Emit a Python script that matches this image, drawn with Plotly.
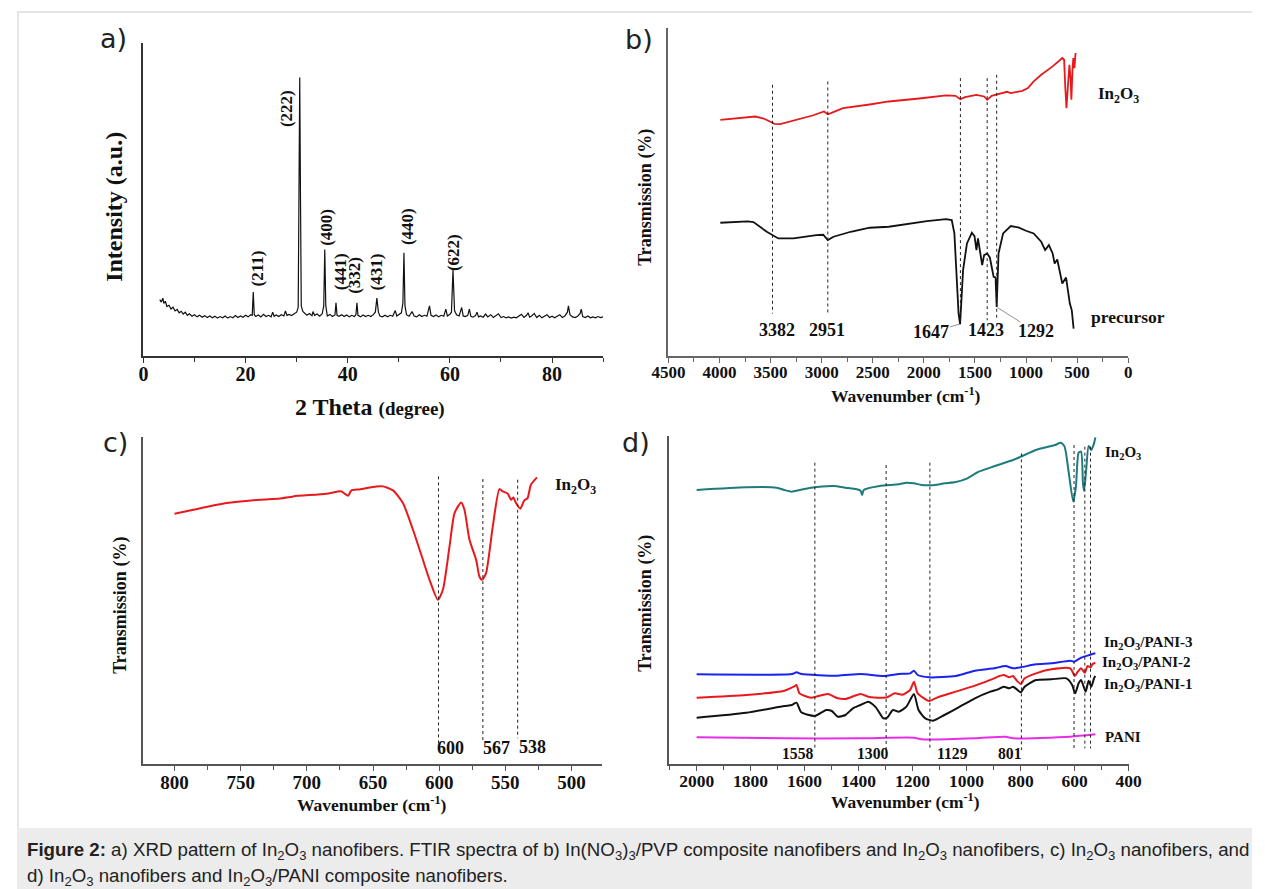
import plotly.graph_objects as go

W, H = 1265, 889

# ---------------- data ----------------
# a) XRD pattern
xrd_2theta = [3.2, 3.5, 3.8, 4.0, 4.3, 4.6, 5.0, 5.4, 5.8, 6.2, 6.6, 7.0, 7.4, 7.8, 8.2, 8.6, 9.0, 9.5, 10, 10.5,
              11, 11.5, 12, 12.5, 13, 13.5, 14, 14.5, 15, 15.5, 16, 16.5, 17, 17.5, 18, 18.5, 19, 19.5, 20, 20.5,
              21, 21.3, 21.5, 21.7, 22, 22.5, 23, 23.5, 24, 24.5, 25, 25.3, 25.6, 26, 26.5, 27, 27.5, 27.8, 28.1,
              28.5, 29, 29.5, 30.0, 30.3, 30.5, 30.6, 30.75, 30.9, 31.2, 31.6, 32, 32.5, 33, 33.2, 33.5, 34, 34.5,
              35, 35.3, 35.5, 35.7, 36, 36.5, 37, 37.5, 37.7, 37.9, 38.3, 38.8, 39.3, 39.8, 40.3, 40.8, 41.3, 41.6,
              41.8, 42.0, 42.5, 43, 43.5, 44, 44.5, 45, 45.4, 45.7, 46.0, 46.3, 46.8, 47.3, 47.8, 48.3, 48.8, 49.3,
              49.6, 50, 50.5, 50.8, 51.0, 51.2, 51.5, 52, 52.6, 53.0, 53.5, 54, 54.5, 55, 55.5, 56.0, 56.3, 56.8,
              57.3, 57.8, 58.3, 58.8, 59.2, 59.5, 60, 60.3, 60.6, 60.9, 61.3, 61.8, 62.3, 62.6, 63.0, 63.5, 63.8,
              64.1, 64.5, 65, 65.3, 65.6, 66, 66.5, 67, 67.4, 68, 68.5, 69, 69.5, 70, 70.5, 71, 71.5, 72, 72.5, 73,
              73.5, 74, 74.5, 75, 75.3, 75.6, 76, 76.5, 77, 77.5, 78, 78.5, 79, 79.5, 80, 80.5, 81, 81.5, 82, 82.5,
              83.0, 83.2, 83.5, 84, 84.5, 85, 85.5, 85.7, 86.0, 86.5, 87, 87.5, 88, 88.5, 89, 89.5, 90]
xrd_intensity = [18, 17.2, 18.5, 16.8, 17.5, 15.8, 16.2, 15.0, 15.6, 14.4, 14.9, 13.8, 14.3, 13.4, 14.0, 13.0, 13.5,
                 12.7, 13.2, 12.5, 13.0, 12.4, 12.9, 12.3, 12.8, 12.2, 12.7, 12.1, 12.6, 12.2, 12.8, 12.1, 12.6, 12.2,
                 12.9, 12.3, 12.8, 12.4, 13.0, 12.5, 13.2, 13.0, 20.4, 13.2, 12.6, 13.1, 12.5, 13.3, 12.6, 13.0, 12.5,
                 14.0, 12.7, 13.1, 12.6, 13.2, 12.8, 14.4, 13.0, 13.3, 12.9, 13.5, 14.0, 15.5, 50, 89, 50, 16, 14.2,
                 13.5, 13.0, 13.6, 12.9, 14.2, 13.0, 13.4, 12.7, 13.5, 16, 34, 16, 12.8, 13.3, 12.6, 13.1, 17, 13.0,
                 12.7, 13.2, 12.6, 13.1, 12.5, 13.0, 12.6, 13.2, 17, 13.0, 12.5, 13.1, 12.6, 13.0, 12.6, 13.2, 14,
                 18.5, 14.0, 12.8, 12.5, 13.0, 12.5, 13.0, 12.7, 14.5, 12.8, 13.3, 13.8, 17, 33, 16, 13.2, 12.7, 14.2,
                 12.8, 12.5, 13.2, 12.6, 13.0, 12.7, 16, 13.0, 12.6, 13.1, 12.5, 13.0, 12.7, 15, 12.8, 13.3, 14.0,
                 27.5, 14.5, 13.2, 12.8, 15.5, 12.8, 12.6, 13.0, 15, 12.7, 12.4, 12.9, 14.0, 12.5, 12.8, 12.4, 13.4,
                 12.5, 13.2, 12.3, 12.9, 13.5, 12.3, 12.6, 12.2, 12.5, 12.1, 12.4, 12.2, 12.8, 13.3, 12.3, 13.0, 13.8,
                 12.4, 12.8, 13.6, 12.3, 13.0, 12.2, 12.6, 13.2, 12.3, 12.7, 12.2, 12.6, 13.2, 12.3, 12.8, 14, 16,
                 13.2, 12.5, 12.3, 12.7, 13.6, 15, 12.6, 12.3, 12.8, 12.2, 12.5, 12.2, 12.6, 12.3, 12.5]
xrd_hkl = ["(211)", "(222)", "(400)", "(441)", "(332)", "(431)", "(440)", "(622)"]
xrd_hkl_x = [22.3, 27.9, 35.7, 38.5, 41.4, 45.6, 51.6, 60.6]
xrd_hkl_y = [28.1, 79.2, 41.2, 26.8, 25.9, 26.8, 41.2, 33.2]

# b) FTIR precursor / In2O3
b_in2o3_wn = [3992, 3649, 3567, 3462, 3406, 3276, 3089, 2977, 2940, 2910, 2847, 2791, 2530, 2343, 2045, 1783, 1690,
              1642, 1597, 1485, 1410, 1380, 1336, 1224, 1186, 1149, 1112, 1037, 981, 925, 851, 739, 645, 627, 616,
              604, 590, 575, 563, 556, 545, 537, 526, 515]
b_in2o3_t = [70.7, 71.7, 71.1, 69.5, 69.4, 70.5, 72.0, 73.2, 72.4, 72.7, 73.5, 74.2, 75.3, 76.2, 77.1, 78.0, 77.9,
             76.9, 77.5, 78.2, 77.7, 76.7, 77.9, 78.7, 79.1, 78.7, 79.0, 79.4, 80.2, 82.2, 84.2, 86.7, 89.2, 88.7,
             80.7, 74.2, 80.7, 87.2, 82.7, 76.7, 85.7, 89.2, 86.2, 90.7]
b_prec_wn = [3992, 3724, 3668, 3537, 3425, 3276, 3052, 2985, 2940, 2884, 2716, 2530, 2343, 1970, 1783, 1727, 1701,
             1679, 1660, 1645, 1634, 1616, 1578, 1530, 1504, 1485, 1470, 1448, 1429, 1410, 1380, 1354, 1317, 1298,
             1287, 1269, 1224, 1149, 1075, 1000, 925, 851, 813, 776, 739, 720, 694, 645, 608, 571, 552, 534]
b_prec_t = [39.9, 40.3, 40.1, 37.2, 35.2, 35.2, 36.2, 36.3, 34.7, 35.7, 37.2, 38.4, 38.7, 40.4, 41.0, 40.7, 36.7,
            25.7, 12.7, 9.5, 14.7, 25.7, 33.7, 36.9, 35.9, 31.7, 35.2, 30.7, 27.2, 30.2, 30.7, 29.5, 23.7, 23.5,
            14.7, 30.7, 36.7, 38.9, 38.5, 37.5, 36.7, 34.2, 31.7, 33.2, 30.7, 27.7, 28.9, 21.7, 23.5, 15.7, 13.7, 8.2]
b_marks_wn = [3481, 2940, 1642, 1380, 1287]
b_marks_top = [81.2, 82.2, 83.2, 83.2, 84.2]
b_marks_bot = [12.7, 12.2, 9.7, 10.7, 10.7]
b_labels = ["3382", "2951", "1647", "1423", "1292"]
b_labels_x = [3433, 2947, 1933, 1392, 907]
b_labels_y = [7.9, 7.9, 7.2, 7.7, 7.5]

# c) FTIR In2O3 (fingerprint region)
c_wn = [800, 785.7, 760.6, 735.4, 720.4, 710.3, 685.2, 673.9, 671.4, 668.8, 666.3, 660.1, 647.5, 642.5, 634.9, 627.4,
        619.8, 612.3, 607.3, 601, 597.2, 592.2, 588.4, 583.4, 580.9, 577.1, 572.1, 569.6, 567.6, 564.6, 559.5,
        554.5, 552, 548.2, 545.7, 544, 541.9, 538.7, 535.7, 533.2, 530.7, 526.1]
c_t = [75, 76.2, 78.2, 79.2, 79.6, 80.2, 81, 81.7, 81, 80.4, 82, 82.3, 83.2, 83.2, 82, 78.2, 70.2, 61.2, 55.2, 49.2,
       52.2, 65.2, 75.2, 78.4, 76.2, 67.2, 61.2, 56.2, 55.2, 57.2, 71.2, 82.4, 81.7, 81, 79.2, 79.9, 78.2, 76.5, 79,
       79.7, 83.7, 85.9]
c_marks_wn = [600.5, 567, 540.7]
c_marks_top = [86.2, 85.4, 85.2]
c_marks_bot = [6.2, 6.7, 7.7]
c_labels = ["600", "567", "538"]
c_labels_x = [591.7, 556.5, 529.4]
c_labels_y = [4.7, 4.7, 5.0]

# d) FTIR In2O3 / In2O3-PANI composites / PANI
d_in2o3_wn = [2000, 1816, 1703, 1675, 1647, 1619, 1576, 1492, 1449, 1407, 1393, 1387, 1381, 1322, 1251, 1223, 1195,
              1167, 1138, 1110, 1082, 1040, 997, 955, 912, 884, 828, 799, 743, 672, 651, 637, 623, 605, 595, 585, 576,
              569, 565, 557, 548, 538, 528, 523]
d_in2o3_t = [82.2, 83, 82.9, 82.2, 81.7, 82.2, 82.9, 83.4, 82.9, 82.4, 82, 80.7, 82.2, 83.4, 83.9, 84.4, 84.2, 83.7,
             83.6, 83.8, 84.2, 84.6, 85.7, 87.7, 88.9, 89.7, 91.2, 92.2, 94.2, 95.7, 96.4, 95.2, 88.2, 78.7, 83.2,
             93.4, 93.7, 84.2, 82, 88.2, 95.4, 94.2, 96.2, 98]
d_p3_wn = [2000, 1647, 1630, 1612, 1477, 1393, 1308, 1251, 1209, 1195, 1181, 1138, 1040, 969, 898, 856, 828, 799, 743,
           686, 616, 602, 573, 545, 523]
d_p3_t = [26.9, 27.0, 27.5, 27.0, 26.5, 27.0, 26.4, 27.0, 27.2, 28.0, 26.7, 26.0, 26.4, 28.0, 28.7, 29.4, 28.7, 29.0,
          29.9, 30.2, 31.0, 30.7, 32.0, 32.7, 33.2]
d_p2_wn = [2000, 1816, 1675, 1640, 1630, 1619, 1576, 1534, 1513, 1477, 1449, 1393, 1364, 1308, 1294, 1266, 1237, 1209,
           1195, 1181, 1138, 1110, 1040, 969, 898, 884, 863, 842, 828, 814, 799, 785, 743, 686, 616, 599, 588, 576,
           562, 552, 541, 534, 523]
d_p2_t = [19.9, 20.7, 22.0, 23.2, 23.7, 21.2, 19.9, 20.7, 21.0, 19.7, 19.5, 21.0, 20.2, 19.9, 20.0, 21.2, 20.8, 22.2,
          24.7, 21.2, 18.9, 19.9, 21.7, 23.5, 25.7, 26.2, 26.7, 26.0, 26.4, 25.0, 24.0, 25.7, 27.2, 28.4, 28.7, 26.4,
          27.7, 28.7, 27.4, 29.4, 29.0, 29.9, 30.4]
d_p1_wn = [2000, 1816, 1675, 1647, 1630, 1612, 1562, 1520, 1499, 1477, 1449, 1421, 1393, 1364, 1336, 1308, 1294, 1273,
           1251, 1223, 1195, 1178, 1153, 1124, 1082, 1025, 969, 912, 884, 863, 842, 828, 814, 799, 785, 743, 686, 630,
           609, 598, 585, 576, 559, 548, 538, 528, 523]
d_p1_t = [13.9, 15.4, 17.4, 17.7, 18.4, 15.5, 14.4, 16.2, 15.9, 14.2, 14.7, 16.7, 17.7, 18.7, 17.0, 13.7, 13.9, 16.2,
          15.7, 17.2, 21.0, 16.2, 13.7, 13.0, 14.7, 17.2, 19.7, 21.7, 22.4, 23.2, 22.7, 23.2, 22.4, 21.5, 23.2, 25.2,
          25.4, 25.7, 23.7, 21.2, 24.2, 25.2, 21.7, 25.0, 23.2, 25.7, 26.4]
d_pani_wn = [2000, 1675, 1393, 1195, 1167, 969, 856, 828, 616, 523]
d_pani_t = [8.0, 7.7, 7.7, 7.9, 7.4, 7.7, 8.2, 7.7, 8.2, 8.9]
d_marks_wn = [1562, 1298, 1136, 797, 602, 562, 541]
d_marks_top = [90.4, 89.7, 90.4, 93.2, 95.7, 95.2, 95.2]
d_marks_bot = [4.2, 4.2, 4.2, 4.2, 4.2, 4.7, 4.7]
d_labels = ["1558", "1300", "1129", "801"]
d_labels_x = [1623, 1346, 1054, 838]
d_labels_y = [3.2, 3.2, 3.2, 3.2]
d_series_names = ["In<sub>2</sub>O<sub>3</sub>", "In<sub>2</sub>O<sub>3</sub>/PANI-3",
                  "In<sub>2</sub>O<sub>3</sub>/PANI-2", "In<sub>2</sub>O<sub>3</sub>/PANI-1", "PANI"]
d_names_x = [496, 500, 506, 500, 493]
d_names_y = [93.2, 36.2, 30.2, 23.7, 8.2]

# ---------------- helpers ----------------
SERIF = "Liberation Serif"
SANS = "Liberation Sans"
SX, OX = 0.98, 12.8   # observed horizontal mapping of the page in the screenshot


def px(x):
    return (x - OX) / SX / W


def py(y):
    return 1 - y / H


fig = go.Figure()
RED = "#e8191c"
TEAL = "#1e7b7b"
BLUE = "#1a22f0"
MAG = "#e62ee6"


def line(x, y, color, width, xa, ya, dash=None, shape="linear"):
    fig.add_trace(go.Scatter(x=x, y=y, mode="lines", xaxis=xa, yaxis=ya, showlegend=False, hoverinfo="skip",
                             line=dict(color=color, width=width, dash=dash, shape=shape,
                                       smoothing=0.6 if shape == "spline" else None)))


# a
line(xrd_2theta, xrd_intensity, "#111111", 1.2, "x", "y")
# b
line(b_in2o3_wn, b_in2o3_t, RED, 1.8, "x2", "y2")
line(b_prec_wn, b_prec_t, "#111111", 1.8, "x2", "y2")
for w, t0, t1 in zip(b_marks_wn, b_marks_top, b_marks_bot):
    line([w, w], [t0, t1], "#222222", 1, "x2", "y2", dash="dot")
# c
line(c_wn, c_t, RED, 2, "x3", "y3", shape="spline")
for w, t0, t1 in zip(c_marks_wn, c_marks_top, c_marks_bot):
    line([w, w], [t0, t1], "#222222", 1, "x3", "y3", dash="dot")
# d
line(d_in2o3_wn, d_in2o3_t, TEAL, 2, "x4", "y4", shape="spline")
line(d_p3_wn, d_p3_t, BLUE, 2, "x4", "y4", shape="spline")
line(d_p2_wn, d_p2_t, RED, 2, "x4", "y4", shape="spline")
line(d_p1_wn, d_p1_t, "#111111", 2, "x4", "y4", shape="spline")
line(d_pani_wn, d_pani_t, MAG, 2, "x4", "y4", shape="spline")
for w, t0, t1 in zip(d_marks_wn, d_marks_top, d_marks_bot):
    line([w, w], [t0, t1], "#222222", 1, "x4", "y4", dash="dot")


def xax(dom, rng, dtick, mdtick, size, anchor, color, standoff):
    return dict(domain=[px(dom[0]), px(dom[1])], range=rng, dtick=dtick, tick0=0, anchor=anchor,
                showline=True, linecolor=color, linewidth=1.5, showgrid=False, zeroline=False,
                ticks="outside", ticklen=5, tickwidth=1.2, tickcolor=color, ticklabelstandoff=standoff,
                minor=dict(ticks="outside", dtick=mdtick, ticklen=4, tickwidth=1.2, tickcolor=color),
                tickfont=dict(family=SERIF, size=size, color="#111111", weight="bold"), fixedrange=True)


def yax(dom, rng, anchor, color):
    return dict(domain=[py(dom[1]), py(dom[0])], range=rng, anchor=anchor, showline=True, linecolor=color,
                linewidth=1.5, showgrid=False, zeroline=False, showticklabels=False, ticks="", fixedrange=True)


layout = dict(
    width=W, height=H, margin=dict(l=0, r=0, t=0, b=0), autosize=False,
    paper_bgcolor="white", plot_bgcolor="rgba(0,0,0,0)", showlegend=False,
    xaxis=xax((139.7, 601.2), [0, 90], 20, 10, 20, "y", "#333333", -6),
    yaxis=yax((43, 356), [0, 100], "x", "#333333"),
    xaxis2=xax((666.7, 1128.2), [4500, 0], 500, 250, 17, "y2", "#666666", -5),
    yaxis2=yax((28, 356), [0, 98.2], "x2", "#666666"),
    xaxis3=xax((139, 600), [824, 477], 50, 25, 19, "y3", "#555555", -5),
    yaxis3=yax((437, 764), [0, 98], "x3", "#555555"),
    xaxis4=xax((667.1, 1128.6), [2103, 400], 200, 100, 17.5, "y4", "#555555", -5),
    yaxis4=yax((436, 764), [0, 98.4], "x4", "#555555"),
)
fig.update_layout(**layout)

ann = []
shapes = []


def A(text, x, y, size, xref="paper", yref="paper", family=SERIF, angle=0, xanchor="center", yanchor="middle",
      color="#111111"):
    ann.append(dict(text=text, x=x, y=y, xref=xref, yref=yref, showarrow=False, textangle=angle,
                    xanchor=xanchor, yanchor=yanchor, font=dict(family=family, size=size, color=color)))


# panel letters
for t, x, y in [("a)", 110, 38), ("b)", 637, 40), ("c)", 112, 443), ("d)", 634, 443)]:
    A(t, px(x), py(y), 27, family="DejaVu Sans", color="#222222")

# axis titles
A("<b>Intensity (a.u.)</b>", px(110), py(207), 24, angle=-90)
A("<b>2 Theta </b><span style='font-size:19px'><b>(degree)</b></span>", px(367), py(407), 24)
A("<b>Transmission (%)</b>", px(643), py(197), 18, angle=-90)
A("<b>Wavenumber (cm<sup>-1</sup>)</b>", px(905), py(395), 17.5)
A("<b>Transmission (%)</b>", px(116), py(605), 18, angle=-90)
A("<b>Wavenumber (cm<sup>-1</sup>)</b>", px(369), py(804), 17.5)
A("<b>Transmission (%)</b>", px(643), py(603), 18, angle=-90)
A("<b>Wavenumber (cm<sup>-1</sup>)</b>", px(905), py(801), 17.4)

# a peak labels
for t, x, y in zip(xrd_hkl, xrd_hkl_x, xrd_hkl_y):
    A("<b>" + t + "</b>", x, y, 17, xref="x", yref="y", angle=-90)

# b labels
for t, x, y in zip(b_labels, b_labels_x, b_labels_y):
    A("<b>" + t + "</b>", x, y, 18, xref="x2", yref="y2")
A("<b>In<sub>2</sub>O<sub>3</sub></b>", 317, 78.2, 17, xref="x2", yref="y2", xanchor="left")
A("<b>precursor</b>", 384, 11.7, 17.5, xref="x2", yref="y2", xanchor="left")
shapes.append(dict(type="line", xref="x2", yref="y2", x0=1746, y0=8.7, x1=1653, y1=9.5,
                   line=dict(color="#777777", width=0.8)))
shapes.append(dict(type="line", xref="x2", yref="y2", x0=1056, y0=10.2, x1=1280, y1=14.5,
                   line=dict(color="#777777", width=0.8)))

# c labels
for t, x, y in zip(c_labels, c_labels_x, c_labels_y):
    A("<b>" + t + "</b>", x, y, 18, xref="x3", yref="y3")
A("<b>In<sub>2</sub>O<sub>3</sub></b>", 514.3, 83.2, 17, xref="x3", yref="y3", xanchor="left")

# d labels
for t, x, y in zip(d_labels, d_labels_x, d_labels_y):
    A("<b>" + t + "</b>", x, y, 15.7, xref="x4", yref="y4")
for t, x, y in zip(d_series_names, d_names_x, d_names_y):
    A("<b>" + t + "</b>", x, y, 15, xref="x4", yref="y4", xanchor="left")

# frame + caption band
shapes.append(dict(type="rect", xref="paper", yref="paper", x0=0, x1=1, y0=0, y1=py(828),
                   fillcolor="#ececec", line=dict(width=0), layer="below"))
shapes.append(dict(type="line", xref="paper", yref="paper", x0=0.0008, x1=0.0008, y0=py(828), y1=py(12),
                   line=dict(color="#dddddd", width=1.5)))
shapes.append(dict(type="line", xref="paper", yref="paper", x0=0, x1=1, y0=py(12), y1=py(12),
                   line=dict(color="#dddddd", width=1.5)))

A("<b>Figure 2:</b> a) XRD pattern of In<sub>2</sub>O<sub>3</sub> nanofibers. FTIR spectra of b) "
  "In(NO<sub>3</sub>)<sub>3</sub>/PVP composite nanofibers and In<sub>2</sub>O<sub>3</sub> nanofibers, "
  "c) In<sub>2</sub>O<sub>3</sub> nanofibers, and", px(21), py(851), 18.7, family=SANS, xanchor="left",
  color="#222222")
A("d) In<sub>2</sub>O<sub>3</sub> nanofibers and In<sub>2</sub>O<sub>3</sub>/PANI composite nanofibers.",
  px(21), py(877), 18.7, family=SANS, xanchor="left", color="#222222")

fig.update_layout(annotations=ann, shapes=shapes)
fig.write_html("out.html")
